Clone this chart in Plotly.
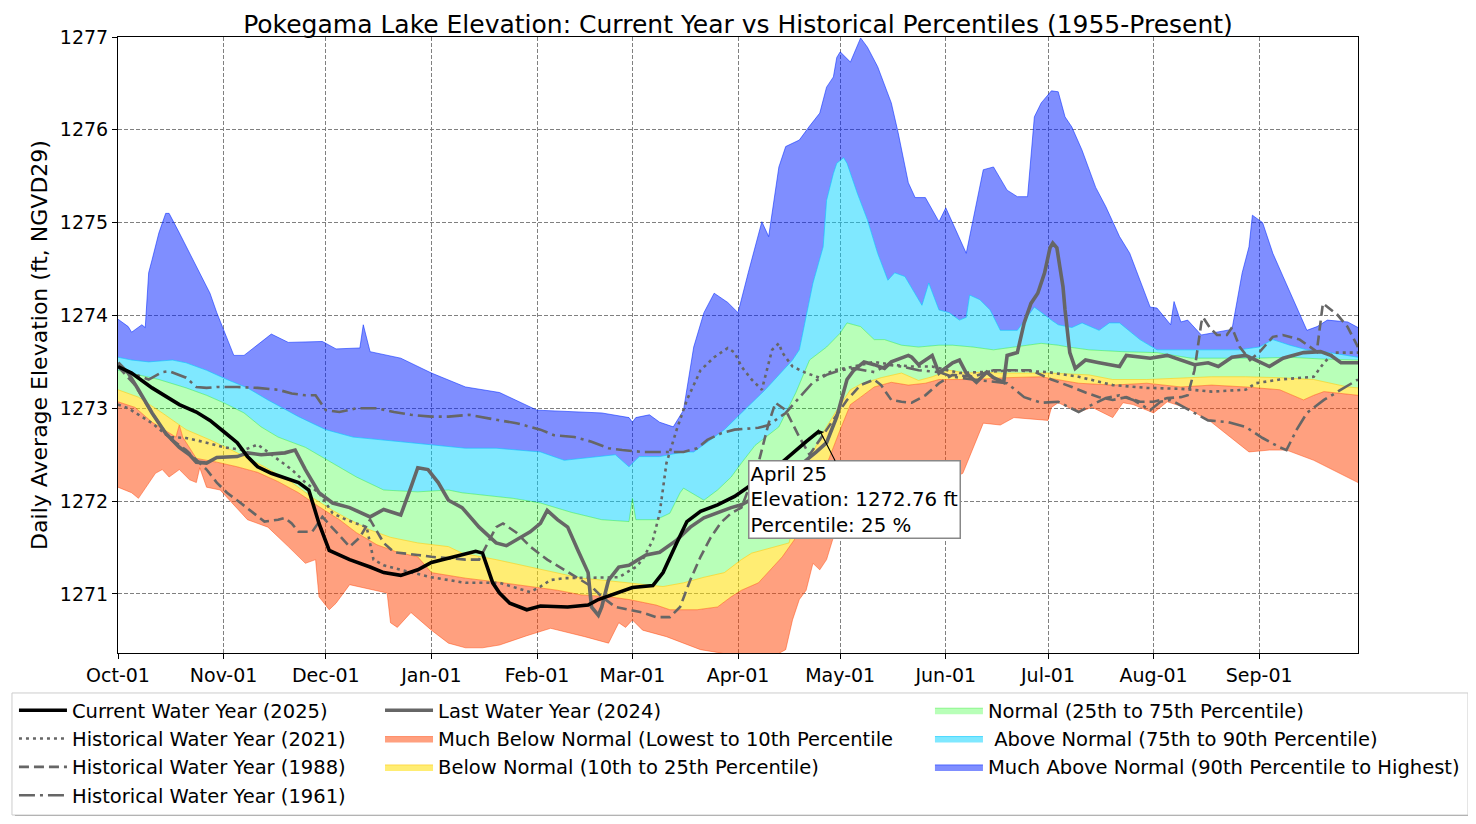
import pandas as pd
import plotly.graph_objects as go

# ---------------- data (days since 2024-10-01, elevation ft NGVD29) ----------------
max_days = [0,3,4,7,8,9,10,12,14,15,18,21,24,27,29,31,34,37,43,45,50,60,64,71,72,74,83,92,102,112,123,142,150,151,152,156,159,163,166,169,172,175,179,182,185,189,191,194,196,200,203,206,208,210,211,212,215,218,220,223,227,229,232,234,237,241,243,249,254,257,261,264,267,269,271,274,276,278,280,283,287,290,294,297,300,303,305,309,310,312,314,318,327,330,332,333,336,339,342,346,349,352,355,361,364]
max_vals = [1273.96,1273.88,1273.82,1273.90,1273.87,1274.46,1274.60,1274.89,1275.10,1275.10,1274.89,1274.67,1274.46,1274.24,1274.03,1273.84,1273.57,1273.57,1273.74,1273.80,1273.71,1273.72,1273.64,1273.65,1273.90,1273.61,1273.54,1273.38,1273.23,1273.17,1272.98,1272.95,1272.90,1272.85,1272.90,1272.93,1272.85,1272.80,1272.98,1273.66,1274.03,1274.24,1274.14,1274.03,1274.46,1275.01,1274.85,1275.60,1275.82,1275.89,1276.04,1276.18,1276.46,1276.57,1276.78,1276.84,1276.73,1276.99,1276.89,1276.68,1276.29,1275.97,1275.43,1275.27,1275.27,1275.01,1275.16,1274.67,1275.57,1275.60,1275.35,1275.28,1275.28,1276.14,1276.29,1276.42,1276.41,1276.14,1276.03,1275.78,1275.38,1275.17,1274.85,1274.67,1274.38,1274.09,1274.08,1273.90,1274.15,1273.93,1273.95,1273.79,1273.85,1274.46,1274.74,1275.08,1275.00,1274.67,1274.42,1274.09,1273.84,1273.88,1273.95,1273.93,1273.87]

p90_days = [0,4,9,16,20,26,32,38,44,53,61,69,83,92,102,111,124,131,141,146,150,153,159,166,169,173,178,183,186,190,198,200,204,207,208,210,211,213,214,217,220,223,226,228,231,234,236,238,241,244,247,249,250,253,256,259,264,269,271,274,276,280,283,288,291,294,300,305,313,320,329,335,339,344,349,354,364]
p90_vals = [1273.55,1273.52,1273.50,1273.52,1273.49,1273.41,1273.31,1273.22,1273.09,1272.91,1272.77,1272.69,1272.64,1272.61,1272.57,1272.57,1272.53,1272.44,1272.48,1272.50,1272.37,1272.48,1272.48,1272.53,1272.53,1272.64,1272.77,1272.95,1273.06,1273.20,1273.52,1273.63,1274.35,1274.74,1275.24,1275.53,1275.64,1275.70,1275.64,1275.32,1275.03,1274.67,1274.38,1274.46,1274.42,1274.24,1274.11,1274.35,1274.06,1274.03,1273.95,1273.98,1274.22,1274.17,1274.06,1273.84,1273.84,1274.09,1274.03,1273.95,1273.90,1273.87,1273.92,1273.84,1273.92,1273.92,1273.74,1273.63,1273.63,1273.63,1273.63,1273.66,1273.74,1273.68,1273.63,1273.61,1273.55]

p75_days = [0,6,12,20,26,31,37,42,47,55,63,70,78,88,97,101,116,124,133,142,150,151,152,158,162,165,166,170,172,176,180,183,187,194,199,203,208,212,214,218,220,222,225,230,235,241,245,251,257,261,267,271,276,279,285,295,305,315,324,334,344,354,364]
p75_vals = [1273.41,1273.36,1273.31,1273.22,1273.14,1273.06,1272.95,1272.80,1272.69,1272.58,1272.41,1272.26,1272.12,1272.10,1272.12,1272.09,1272.03,1271.98,1271.88,1271.80,1271.78,1272.03,1271.80,1271.80,1271.87,1272.09,1272.14,1272.05,1272.01,1272.12,1272.26,1272.41,1272.60,1272.80,1273.17,1273.52,1273.66,1273.81,1273.92,1273.88,1273.81,1273.74,1273.74,1273.68,1273.66,1273.68,1273.68,1273.66,1273.63,1273.65,1273.68,1273.70,1273.68,1273.66,1273.63,1273.61,1273.60,1273.54,1273.54,1273.54,1273.55,1273.53,1273.52]

p25_days = [0,6,13,20,27,35,43,51,57,63,68,74,80,88,97,101,111,121,129,136,142,150,160,166,172,178,183,186,197,202,207,211,215,218,224,230,235,239,244,249,254,259,273,285,292,302,312,321,331,341,351,361,364]
p25_vals = [1273.20,1273.12,1272.95,1272.77,1272.66,1272.52,1272.37,1272.20,1272.04,1271.90,1271.80,1271.69,1271.61,1271.55,1271.51,1271.44,1271.37,1271.29,1271.23,1271.17,1271.15,1271.12,1271.08,1271.12,1271.18,1271.23,1271.37,1271.44,1271.55,1272.39,1272.74,1272.98,1273.20,1273.26,1273.33,1273.38,1273.30,1273.34,1273.41,1273.38,1273.39,1273.38,1273.38,1273.36,1273.31,1273.31,1273.33,1273.34,1273.34,1273.33,1273.31,1273.23,1273.22]

p10_days = [0,5,10,17,18,19,23,29,35,41,47,53,59,65,70,76,82,88,92,102,111,121,129,136,144,150,158,162,170,176,180,183,188,195,200,205,208,212,215,218,222,227,232,237,241,251,261,271,282,292,302,312,321,331,341,348,351,354,364]
p10_vals = [1273.07,1273.01,1272.85,1272.69,1272.82,1272.69,1272.46,1272.42,1272.37,1272.31,1272.21,1272.09,1271.94,1271.80,1271.66,1271.53,1271.45,1271.40,1271.23,1271.17,1271.13,1271.08,1271.04,1270.99,1270.97,1270.94,1270.88,1270.83,1270.83,1270.86,1270.97,1271.04,1271.12,1271.40,1271.66,1271.80,1272.39,1272.77,1273.04,1273.12,1273.23,1273.28,1273.25,1273.27,1273.31,1273.31,1273.33,1273.34,1273.27,1273.25,1273.27,1273.23,1273.25,1273.23,1273.20,1273.09,1273.14,1273.18,1273.14]

min_days = [0,4,6,11,13,15,18,21,23,24,26,30,38,44,50,55,58,59,62,64,68,73,79,80,82,86,92,97,102,107,112,120,127,137,144,147,149,151,154,161,171,176,183,192,196,198,200,202,204,206,208,210,212,218,230,241,248,251,254,259,263,273,274,276,282,286,292,295,298,304,308,314,321,332,338,343,351,364]
min_vals = [1272.15,1272.09,1272.03,1272.30,1272.34,1272.26,1272.34,1272.23,1272.20,1272.36,1272.15,1272.12,1271.80,1271.72,1271.51,1271.33,1271.37,1270.97,1270.83,1270.90,1271.10,1271.06,1271.01,1270.69,1270.64,1270.80,1270.61,1270.47,1270.42,1270.42,1270.45,1270.55,1270.63,1270.54,1270.47,1270.69,1270.64,1270.72,1270.61,1270.54,1270.40,1270.37,1270.32,1270.32,1270.40,1270.72,1270.94,1271.04,1271.33,1271.26,1271.37,1271.61,1271.80,1271.96,1272.07,1272.17,1272.30,1272.58,1272.84,1272.82,1272.90,1272.87,1273.01,1273.06,1272.96,1273.01,1272.90,1273.06,1273.04,1272.95,1273.07,1273.00,1272.85,1272.53,1272.55,1272.55,1272.44,1272.20]

cur_days = [0,4,10,16,18,23,27,31,35,38,41,45,49,53,56,59,62,65,68,74,78,83,88,92,97,102,105,107,110,112,115,120,124,132,138,141,145,151,157,160,164,167,171,176,181,185,190,195,199,202,206]
cur_vals = [1273.45,1273.38,1273.22,1273.09,1273.04,1272.96,1272.87,1272.75,1272.63,1272.48,1272.37,1272.30,1272.25,1272.20,1272.12,1271.76,1271.47,1271.42,1271.37,1271.29,1271.23,1271.20,1271.26,1271.34,1271.39,1271.44,1271.46,1271.44,1271.12,1271.01,1270.90,1270.83,1270.87,1270.86,1270.88,1270.94,1270.99,1271.07,1271.09,1271.23,1271.55,1271.78,1271.89,1271.96,1272.05,1272.15,1272.28,1272.42,1272.55,1272.64,1272.76]

last_days = [0,3,6,10,14,18,21,23,26,29,35,38,42,49,52,55,59,63,68,74,78,83,86,88,91,94,97,101,106,111,114,117,121,124,126,129,132,135,138,139,141,142,144,147,150,155,159,164,168,172,176,180,183,190,196,201,205,208,211,214,216,219,222,225,227,232,233,235,239,241,245,247,249,252,255,257,260,261,264,266,268,270,272,273.6,274.4,275.6,276.5,277.4,278,279.4,281,284,288,294,296,300,303,308,312,316,320,323,327,331,334,338,342,348,353,356,359,364]
last_vals = [1273.49,1273.38,1273.20,1272.95,1272.73,1272.58,1272.50,1272.42,1272.41,1272.47,1272.48,1272.52,1272.50,1272.52,1272.55,1272.34,1272.09,1271.98,1271.93,1271.83,1271.91,1271.85,1272.15,1272.36,1272.34,1272.20,1272.01,1271.93,1271.72,1271.55,1271.52,1271.58,1271.67,1271.76,1271.90,1271.80,1271.72,1271.47,1271.23,1270.86,1270.77,1270.86,1271.15,1271.29,1271.31,1271.42,1271.45,1271.58,1271.72,1271.82,1271.88,1271.93,1271.96,1272.10,1272.28,1272.41,1272.53,1272.63,1272.91,1273.31,1273.41,1273.50,1273.47,1273.43,1273.50,1273.57,1273.55,1273.47,1273.57,1273.38,1273.49,1273.52,1273.38,1273.28,1273.39,1273.33,1273.28,1273.57,1273.60,1273.92,1274.13,1274.24,1274.46,1274.73,1274.78,1274.73,1274.52,1274.31,1274.06,1273.60,1273.43,1273.52,1273.49,1273.45,1273.57,1273.55,1273.54,1273.57,1273.52,1273.47,1273.49,1273.45,1273.55,1273.57,1273.52,1273.45,1273.54,1273.60,1273.61,1273.57,1273.49,1273.49]

y2021_days = [0,3,10,15,20,26,31,37,41,46,51,55,59,63,67,70,73,75,78,83,92,102,112,121,124,127,131,147,152,154,157,159,161,164,167,171,175,179,181,183,186,189,190,192,194,195,198,202,206,210,216,222,227,233,239,247,253,263,273,282,292,302,312,321,331,334,341,351,354,357,364]
y2021_vals = [1273.04,1273.00,1272.84,1272.69,1272.68,1272.63,1272.58,1272.55,1272.61,1272.48,1272.34,1272.20,1272.09,1271.87,1271.80,1271.76,1271.72,1271.37,1271.31,1271.26,1271.18,1271.12,1271.12,1271.02,1271.08,1271.15,1271.17,1271.18,1271.29,1271.37,1271.58,1271.87,1272.41,1272.77,1273.09,1273.41,1273.55,1273.65,1273.60,1273.45,1273.31,1273.20,1273.34,1273.63,1273.70,1273.60,1273.45,1273.38,1273.33,1273.41,1273.45,1273.50,1273.47,1273.45,1273.45,1273.38,1273.39,1273.41,1273.39,1273.34,1273.25,1273.22,1273.21,1273.18,1273.20,1273.27,1273.31,1273.34,1273.49,1273.60,1273.60]

y1988_days = [0,5,10,15,20,23,26,29,32,36,40,43,47,49,51,53,57,60,63,68,71,74,78,81,88,92,102,106,108,111,113,117,121,126,131,135,139,142,146,150,154,158,162,165,168,171,174,177,180,183,188,191,193,196,200,203,206,210,214,218,222,224,227,230,233,237,241,245,251,257,263,268,271,274,280,284,288,292,296,300,304,308,312,314,316,317,318,318.5,320.5,322.6,325.5,327,329.3,332.3,335.2,339,341.9,346.9,351.9,353.7,357.9,360.9,364]
y1988_vals = [1273.45,1273.25,1272.95,1272.68,1272.55,1272.44,1272.34,1272.20,1272.09,1271.98,1271.87,1271.78,1271.80,1271.82,1271.76,1271.67,1271.67,1271.83,1271.71,1271.51,1271.61,1271.80,1271.55,1271.45,1271.42,1271.40,1271.37,1271.37,1271.51,1271.72,1271.76,1271.66,1271.51,1271.37,1271.26,1271.17,1271.08,1270.97,1270.86,1270.83,1270.80,1270.75,1270.75,1270.86,1271.15,1271.40,1271.61,1271.77,1271.87,1271.93,1272.41,1272.84,1273.06,1272.98,1272.69,1272.50,1272.66,1272.87,1273.09,1273.25,1273.31,1273.25,1273.09,1273.07,1273.06,1273.14,1273.27,1273.36,1273.34,1273.41,1273.41,1273.41,1273.36,1273.31,1273.23,1273.17,1273.12,1273.09,1273.12,1273.07,1273.07,1273.11,1273.12,1273.14,1273.41,1273.66,1273.92,1273.98,1273.87,1273.79,1273.79,1273.87,1273.66,1273.52,1273.61,1273.77,1273.79,1273.74,1273.61,1274.13,1274.01,1273.88,1273.66]

y1961_days = [0,4,9,13,15,20,23,26,29,35,41,47,51,55,58,61,65,70,76,81,86,92,97,103,112,117,124,128,134,139,144,148,154,160,166,170,173,177,181,188,191,196,200,204,208,212,216,222,226,230,235,241,245,251,261,266,271,276,282,286,290,294,298,303,306,309,313,320,326,331,336,341,343,346,349,354,359,364]
y1961_vals = [1273.45,1273.38,1273.31,1273.39,1273.40,1273.33,1273.23,1273.22,1273.23,1273.23,1273.22,1273.20,1273.16,1273.14,1273.14,1272.98,1272.96,1273.00,1273.00,1272.96,1272.93,1272.91,1272.91,1272.93,1272.87,1272.84,1272.77,1272.71,1272.69,1272.64,1272.57,1272.55,1272.53,1272.53,1272.53,1272.57,1272.66,1272.73,1272.77,1272.79,1272.82,1272.95,1273.12,1273.28,1273.36,1273.41,1273.43,1273.39,1273.47,1273.45,1273.41,1273.39,1273.34,1273.31,1273.27,1273.12,1273.06,1273.07,1272.96,1273.04,1273.11,1273.14,1273.09,1272.98,1273.07,1273.09,1273.01,1272.87,1272.85,1272.80,1272.68,1272.58,1272.55,1272.77,1272.95,1273.09,1273.20,1273.31]

tick_months = ["2024-10-01","2024-11-01","2024-12-01","2025-01-01","2025-02-01","2025-03-01",
               "2025-04-01","2025-05-01","2025-06-01","2025-07-01","2025-08-01","2025-09-01"]
tick_labels = ["Oct-01","Nov-01","Dec-01","Jan-01","Feb-01","Mar-01",
               "Apr-01","May-01","Jun-01","Jul-01","Aug-01","Sep-01"]
y_ticks = [1271, 1272, 1273, 1274, 1275, 1276, 1277]

current_day = 206
current_elev = 1272.76
current_pct = 25

# ---------------- helpers ----------------
BASE = pd.Timestamp("2024-10-01")


def to_dates(days):
    return [BASE + pd.Timedelta(days=float(d)) for d in days]


FONT = "DejaVu Sans"
GRAY = "#666666"

fig = go.Figure()

# percentile bands
fig.add_trace(go.Scatter(x=to_dates(min_days), y=min_vals, mode="lines",
                         line=dict(color="rgba(255,65,0,0.45)", width=1),
                         showlegend=False, hoverinfo="skip"))
bands = [
    (p10_days, p10_vals, "rgba(255,65,0,0.5)", "rgba(255,65,0,0.45)",
     "Much Below Normal (Lowest to 10th Percentile", "legend2", 2),
    (p25_days, p25_vals, "rgba(255,222,0,0.55)", "rgba(255,200,0,0.55)",
     "Below Normal (10th to 25th Percentile)", "legend2", 3),
    (p75_days, p75_vals, "rgba(0,255,0,0.28)", "rgba(0,230,0,0.35)",
     "Normal (25th to 75th Percentile)", "legend3", 1),
    (p90_days, p90_vals, "rgba(0,210,255,0.5)", "rgba(0,200,255,0.6)",
     " Above Normal (75th to 90th Percentile)", "legend3", 2),
    (max_days, max_vals, "rgba(0,30,255,0.5)", "rgba(0,40,255,0.55)",
     "Much Above Normal (90th Percentile to Highest)", "legend3", 3),
]
for d, v, fc, lc, name, lg, rank in bands:
    fig.add_trace(go.Scatter(x=to_dates(d), y=v, mode="lines", fill="tonexty",
                             fillcolor=fc, line=dict(color=lc, width=1),
                             name=name, legend=lg, legendrank=rank,
                             hoverinfo="skip"))

# historical lines
fig.add_trace(go.Scatter(x=to_dates(y2021_days), y=y2021_vals, mode="lines",
                         line=dict(color=GRAY, width=2.6, dash="3px,4px"),
                         name="Historical Water Year (2021)", legend="legend", legendrank=2))
fig.add_trace(go.Scatter(x=to_dates(y1988_days), y=y1988_vals, mode="lines",
                         line=dict(color=GRAY, width=2.6, dash="10px,5px"),
                         name="Historical Water Year (1988)", legend="legend", legendrank=3))
fig.add_trace(go.Scatter(x=to_dates(y1961_days), y=y1961_vals, mode="lines",
                         line=dict(color=GRAY, width=2.6, dash="16px,5px,3px,5px"),
                         name="Historical Water Year (1961)", legend="legend", legendrank=4))
fig.add_trace(go.Scatter(x=to_dates(last_days), y=last_vals, mode="lines",
                         line=dict(color=GRAY, width=3.6),
                         name="Last Water Year (2024)", legend="legend2", legendrank=1))
fig.add_trace(go.Scatter(x=to_dates(cur_days), y=cur_vals, mode="lines",
                         line=dict(color="black", width=3.6),
                         name="Current Water Year (2025)", legend="legend", legendrank=1))

# annotation for current point
cur_date = BASE + pd.Timedelta(days=current_day)
fig.add_annotation(
    x=cur_date, y=current_elev, xref="x", yref="y",
    text=f"{cur_date.strftime('%B')} {cur_date.day}<br>Elevation: {current_elev:.2f} ft<br>Percentile: {current_pct} %",
    align="left", showarrow=True, ax=35, ay=69, axref="pixel", ayref="pixel",
    arrowhead=1, arrowsize=1, arrowwidth=1.1, arrowcolor="black",
    font=dict(family=FONT, size=19.8, color="black"),
    bgcolor="white", bordercolor="#888888", borderwidth=1.5, borderpad=1,
)

# legend frame (drawn as paper shapes)
fig.add_shape(type="rect", xref="paper", yref="paper",
              x0=-0.0831, x1=1.0911, y0=-0.2679, y1=-0.0698,
              fillcolor="#9a9a9a", line=dict(width=0), layer="below")
fig.add_shape(type="rect", xref="paper", yref="paper",
              x0=-0.0855, x1=1.0887, y0=-0.2630, y1=-0.0649,
              fillcolor="white", line=dict(color="#cccccc", width=1), layer="below")

legend_common = dict(bgcolor="rgba(0,0,0,0)", borderwidth=0, xanchor="left",
                     yanchor="top", font=dict(family=FONT, size=19.5, color="black"),
                     itemwidth=48, traceorder="normal")

# page body has an 8px margin, so the figure is 1460x808 to land the plot at the same place
fig.update_layout(
    width=1460, height=808, autosize=False,
    margin=dict(l=110, r=110, t=29, b=163, pad=0, autoexpand=False),
    paper_bgcolor="white", plot_bgcolor="white",
    font=dict(family=FONT, color="black"),
    title=dict(text="Pokegama Lake Elevation: Current Year vs Historical Percentiles (1955-Present)",
               x=0.5, xanchor="center", xref="paper", y=0.9802, yanchor="middle", yref="container",
               font=dict(family=FONT, size=25, color="black")),
    legend=dict(x=-0.0839, y=-0.0617, **legend_common),
    legend2=dict(x=0.2113, y=-0.0617, **legend_common),
    legend3=dict(x=0.6548, y=-0.0617, **legend_common),
    showlegend=True,
)

fig.update_xaxes(
    type="date", range=[BASE, BASE + pd.Timedelta(days=364)],
    tickvals=pd.to_datetime(tick_months), ticktext=tick_labels,
    ticks="outside", ticklen=5, tickcolor="black", tickwidth=1,
    tickfont=dict(family=FONT, size=19, color="black"),
    showgrid=True, gridcolor="#808080", gridwidth=1, griddash="4px,2px",
    showline=True, linecolor="black", linewidth=1, mirror=True, zeroline=False,
)
fig.update_yaxes(
    range=[1270.364, 1277], tickvals=y_ticks,
    ticks="outside", ticklen=5, tickcolor="black", tickwidth=1,
    tickfont=dict(family=FONT, size=19, color="black"),
    showgrid=True, gridcolor="#808080", gridwidth=1, griddash="4px,2px",
    showline=True, linecolor="black", linewidth=1, mirror=True, zeroline=False,
    title=dict(text="Daily Average Elevation (ft, NGVD29)", standoff=6,
               font=dict(family=FONT, size=22, color="black")),
)

fig.write_html("out.html")
